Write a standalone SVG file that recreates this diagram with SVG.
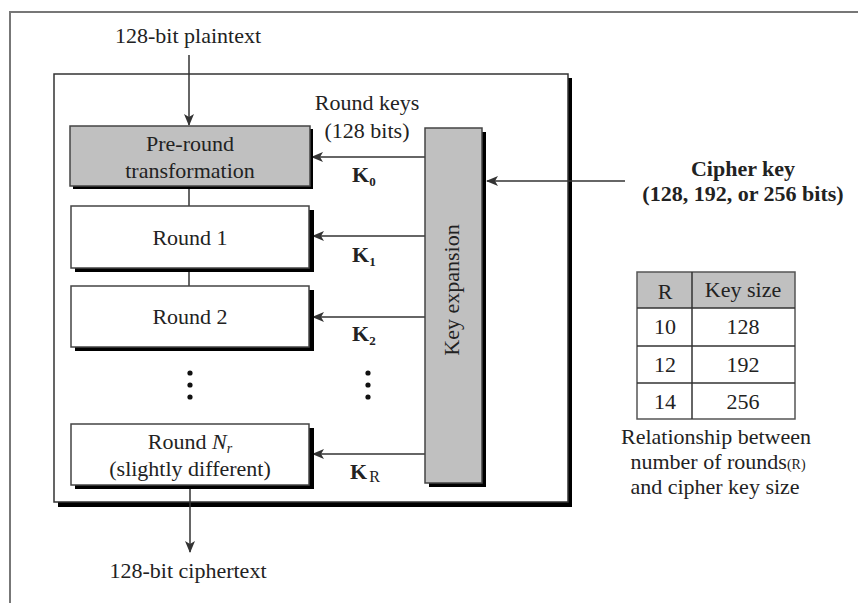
<svg xmlns="http://www.w3.org/2000/svg" width="858" height="603" viewBox="0 0 858 603">
<defs>
<marker id="ah" markerWidth="12" markerHeight="10" refX="11" refY="5" orient="auto" markerUnits="userSpaceOnUse">
<path d="M0,0 L12,5 L0,10 L3,5 Z" fill="#333"/>
</marker>
<style>
text{font-family:"Liberation Serif","Times New Roman",serif;fill:#222;font-size:22px}
.c{text-anchor:middle}
.b{font-weight:bold}
.box{fill:#fff;stroke:#444;stroke-width:1.5}
.gray{fill:#c0c0c0;stroke:#444;stroke-width:1.5}
.sh{fill:#000}
.ln{stroke:#333;stroke-width:1.5;fill:none}
.ar{stroke:#333;stroke-width:1.5;fill:none;marker-end:url(#ah)}
</style>
</defs>
<rect width="858" height="603" fill="#fff"/>
<path d="M10,603 V12 H858" fill="none" stroke="#777" stroke-width="2"/>

<g id="main">
<rect class="sh" x="58" y="78" width="514" height="429"/>
<rect x="54" y="74" width="514" height="428" fill="#fff" stroke="#333" stroke-width="1.5"/>
</g>

<g id="connectors">
<line class="ar" x1="189" y1="55" x2="189" y2="125"/>
<line class="ln" x1="189" y1="186" x2="189" y2="206"/>
<line class="ln" x1="189" y1="268" x2="189" y2="286"/>
<line class="ar" x1="190" y1="485" x2="190" y2="552"/>
<line class="ar" x1="425" y1="157" x2="312" y2="157"/>
<line class="ar" x1="425" y1="236" x2="313" y2="236"/>
<line class="ar" x1="425" y1="317" x2="313" y2="317"/>
<line class="ar" x1="425" y1="454" x2="313" y2="454"/>
<line class="ar" x1="625" y1="181" x2="487" y2="181"/>
</g>

<g id="plaintext"><text class="c" x="188" y="43">128-bit plaintext</text></g>
<g id="ciphertext"><text class="c" x="188" y="578">128-bit ciphertext</text></g>

<g id="preround">
<rect class="sh" x="73" y="129" width="240" height="60"/>
<rect class="gray" x="70" y="126" width="240" height="60"/>
<text class="c" x="190" y="151">Pre-round</text>
<text class="c" x="190" y="178">transformation</text>
</g>
<g id="round1">
<rect class="sh" x="75" y="210" width="239" height="62"/>
<rect class="box" x="71" y="206" width="238" height="62"/>
<text class="c" x="190" y="245">Round 1</text>
</g>
<g id="round2">
<rect class="sh" x="75" y="290" width="239" height="61"/>
<rect class="box" x="71" y="286" width="238" height="61"/>
<text class="c" x="190" y="324">Round 2</text>
</g>
<g id="dots">
<circle cx="190" cy="373" r="2.6" fill="#111"/><circle cx="190" cy="385" r="2.6" fill="#111"/><circle cx="190" cy="397" r="2.6" fill="#111"/>
<circle cx="368" cy="373" r="2.6" fill="#111"/><circle cx="368" cy="385" r="2.6" fill="#111"/><circle cx="368" cy="397" r="2.6" fill="#111"/>
</g>
<g id="roundN">
<rect class="sh" x="75" y="428" width="239" height="61"/>
<rect class="box" x="71" y="424" width="238" height="61"/>
<text class="c" x="190" y="449">Round <tspan font-style="italic">N</tspan><tspan font-style="italic" font-size="14" dy="4">r</tspan></text>
<text class="c" x="190" y="476">(slightly different)</text>
</g>

<g id="keyexp">
<rect class="sh" x="429" y="132" width="57" height="355"/>
<rect class="gray" x="425" y="128" width="57" height="355"/>
<text class="c" x="0" y="0" transform="translate(459,290) rotate(-90)" font-size="21">Key expansion</text>
</g>

<g id="labels">
<text class="c" x="367" y="110">Round keys</text>
<text class="c" x="367" y="138">(128 bits)</text>
<text class="b" x="352" y="182">K<tspan font-size="13" dy="4">0</tspan></text>
<text class="b" x="352" y="262">K<tspan font-size="13" dy="4">1</tspan></text>
<text class="b" x="352" y="341">K<tspan font-size="13" dy="4">2</tspan></text>
<text class="b" x="350" y="479">K<tspan font-size="16" dx="2" dy="3" font-weight="normal">R</tspan></text>
</g>

<g id="cipherkey">
<text class="c b" x="743" y="176">Cipher key</text>
<text class="c b" x="743" y="201">(128, 192, or 256 bits)</text>
</g>

<g id="table">
<rect x="637" y="272" width="158" height="36" fill="#c0c0c0"/>
<rect x="637" y="272" width="158" height="147" fill="none" stroke="#555" stroke-width="1.5"/>
<line class="ln" x1="692" y1="272" x2="692" y2="419"/>
<line class="ln" x1="637" y1="308" x2="795" y2="308"/>
<line class="ln" x1="637" y1="346" x2="795" y2="346"/>
<line class="ln" x1="637" y1="383" x2="795" y2="383"/>
<text class="c" x="665" y="299">R</text><text class="c" x="743" y="297">Key size</text>
<text class="c" x="665" y="334">10</text><text class="c" x="743" y="334">128</text>
<text class="c" x="665" y="372">12</text><text class="c" x="743" y="372">192</text>
<text class="c" x="665" y="409">14</text><text class="c" x="743" y="409">256</text>
</g>
<g id="caption">
<text class="c" x="716" y="444">Relationship between</text>
<text class="c" x="718" y="469">number of rounds<tspan font-size="14">(R)</tspan></text>
<text class="c" x="715" y="494">and cipher key size</text>
</g>
</svg>
